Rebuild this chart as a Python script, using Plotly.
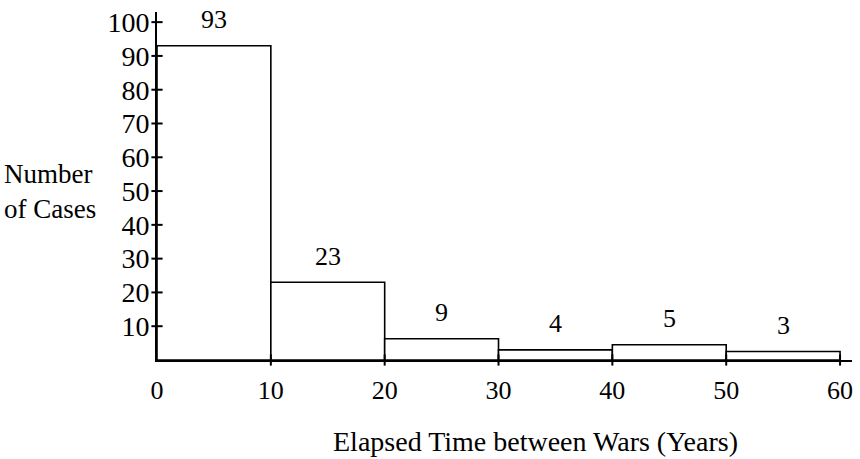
import plotly.graph_objects as go

# bins of elapsed time (years) and the counts printed over each bar
bin_left = [0, 10, 20, 30, 40, 50]
bin_width = 10
case_counts = [93, 23, 9, 4, 5, 3]
# bar heights as drawn in the figure (the small bars are drawn lower than their labels)
bar_heights = [93, 23, 6.3, 3, 4.5, 2.5]

y_ticks = [10, 20, 30, 40, 50, 60, 70, 80, 90, 100]
x_ticks = [0, 10, 20, 30, 40, 50, 60]

FONT = "Liberation Serif"

fig = go.Figure()

# histogram bars
fig.add_trace(go.Bar(
    x=[b + bin_width / 2 for b in bin_left],
    y=bar_heights,
    width=bin_width,
    marker=dict(color="white", line=dict(color="black", width=1.6)),
    hoverinfo="skip",
))

# cross ticks on the y axis
fig.add_trace(go.Scatter(
    x=[0] * len(y_ticks), y=y_ticks, mode="markers",
    marker=dict(symbol="line-ew-open", size=8, color="black",
                line=dict(color="black", width=2)),
    cliponaxis=False, hoverinfo="skip",
))
# cross ticks on the x axis
fig.add_trace(go.Scatter(
    x=x_ticks[1:], y=[0] * (len(x_ticks) - 1), mode="markers",
    marker=dict(symbol="line-ns-open", size=8, color="black",
                line=dict(color="black", width=2)),
    cliponaxis=False, hoverinfo="skip",
))

# count labels above the bars
for b, h, c in zip(bin_left, bar_heights, case_counts):
    fig.add_annotation(x=b + bin_width / 2, y=h, text=str(c), showarrow=False,
                       yanchor="middle", yshift=26,
                       font=dict(family=FONT, size=26, color="black"))

# axis titles
fig.add_annotation(xref="paper", yref="paper", x=-0.2227, y=0.483,
                   text="Number<br>of Cases", showarrow=False,
                   xanchor="left", yanchor="middle", align="left",
                   font=dict(family=FONT, size=27, color="black"))
fig.add_annotation(xref="x", yref="paper", x=33.25, y=-0.234,
                   text="Elapsed Time between Wars (Years)", showarrow=False,
                   xanchor="center", yanchor="middle",
                   font=dict(family=FONT, size=28, color="black"))

fig.update_layout(
    width=860, height=459,
    margin=dict(l=157, r=7, t=10, b=99),
    paper_bgcolor="white", plot_bgcolor="white",
    showlegend=False,
    font=dict(family=FONT, size=26, color="black"),
)
fig.update_xaxes(range=[0, 61.05], tickvals=x_ticks, ticks="",
                 showgrid=False, zeroline=False,
                 showline=True, linecolor="black", linewidth=2,
                 tickfont=dict(size=26), ticklabelstandoff=6)
fig.update_yaxes(range=[0, 103], tickvals=y_ticks, ticks="",
                 showgrid=False, zeroline=False,
                 showline=True, linecolor="black", linewidth=2,
                 tickfont=dict(size=28), ticklabelstandoff=0)

# drop the browser's default body margin so the figure sits at the page corner
fig.write_html("out.html", config={"displayModeBar": False},
               post_script="document.body.style.margin='0';")
